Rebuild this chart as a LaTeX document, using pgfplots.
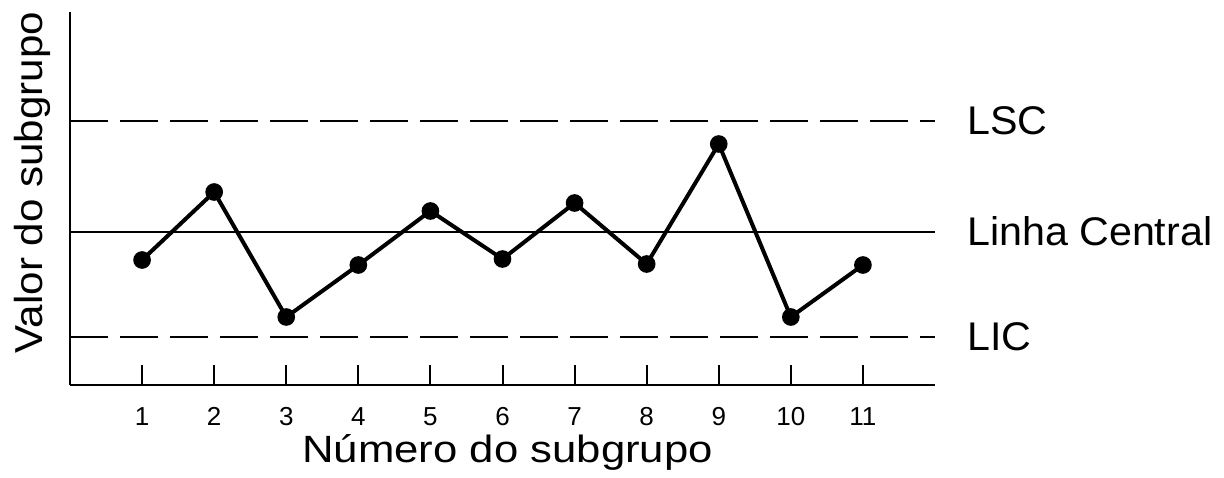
\documentclass[border=0pt]{standalone}
\usepackage{pgfplots}
\pgfplotsset{compat=1.18}
\usepackage{fontspec}
\setmainfont{Liberation Sans}
\newfontfamily\xlabfont[FakeStretch=1.15]{Liberation Sans}
\newfontfamily\ylabfont[FakeStretch=1.08]{Liberation Sans}
\newfontfamily\rlabfont[FakeStretch=1.03]{Liberation Sans}
\begin{document}
\begin{tikzpicture}[x=1pt,y=1pt]
\path[use as bounding box] (0,0) rectangle (612,238.5);
\begin{axis}[
  at={(35pt,46pt)}, anchor=south west,
  scale only axis, width=432.5pt, height=186.5pt,
  xmin=0, xmax=12, ymin=0, ymax=373,
  axis x line=bottom, axis y line=left,
  axis line style={-, line width=1.3pt},
  xtick={1,...,11}, ytick=\empty,
  tick align=inside, major tick length=10pt,
  xtick style={line width=1pt, black},
  xticklabel style={font=\fontsize{13}{15}\selectfont, anchor=base, yshift=-20pt},
  /pgf/number format/assume math mode=true,
  xlabel={Número do subgrupo},
  xlabel style={at={(axis description cs:0.506,-0.209)}, anchor=base, font=\xlabfont\fontsize{19}{23}\selectfont},
  ylabel={Valor do subgrupo},
  ylabel style={at={(axis description cs:-0.044,0.543)}, anchor=center, font=\ylabfont\fontsize{19.5}{23}\selectfont},
  clip=false,
]
\addplot[line width=1pt, black] coordinates {(0,153.5) (12,153.5)};
\addplot[line width=1.2pt, black, dash pattern=on 19pt off 6pt] coordinates {(0,264) (12,264)};
\addplot[line width=1.2pt, black, dash pattern=on 19pt off 6pt] coordinates {(0,48) (12,48)};
\addplot[line width=2pt, black, mark=*, mark size=3.4pt, mark options={solid, fill=black}]
  coordinates {(1,125) (2,193) (3,68) (4,120) (5,174) (6,126) (7,182) (8,121) (9,241) (10,68) (11,120)};
\node[anchor=west, font=\rlabfont\fontsize{20}{24}\selectfont] at (axis description cs:1.029,0.708) {LSC};
\node[anchor=west, font=\rlabfont\fontsize{20}{24}\selectfont] at (axis description cs:1.029,0.412) {Linha Central};
\node[anchor=west, font=\rlabfont\fontsize{20}{24}\selectfont] at (axis description cs:1.029,0.129) {LIC};
\end{axis}
\end{tikzpicture}
\end{document}
